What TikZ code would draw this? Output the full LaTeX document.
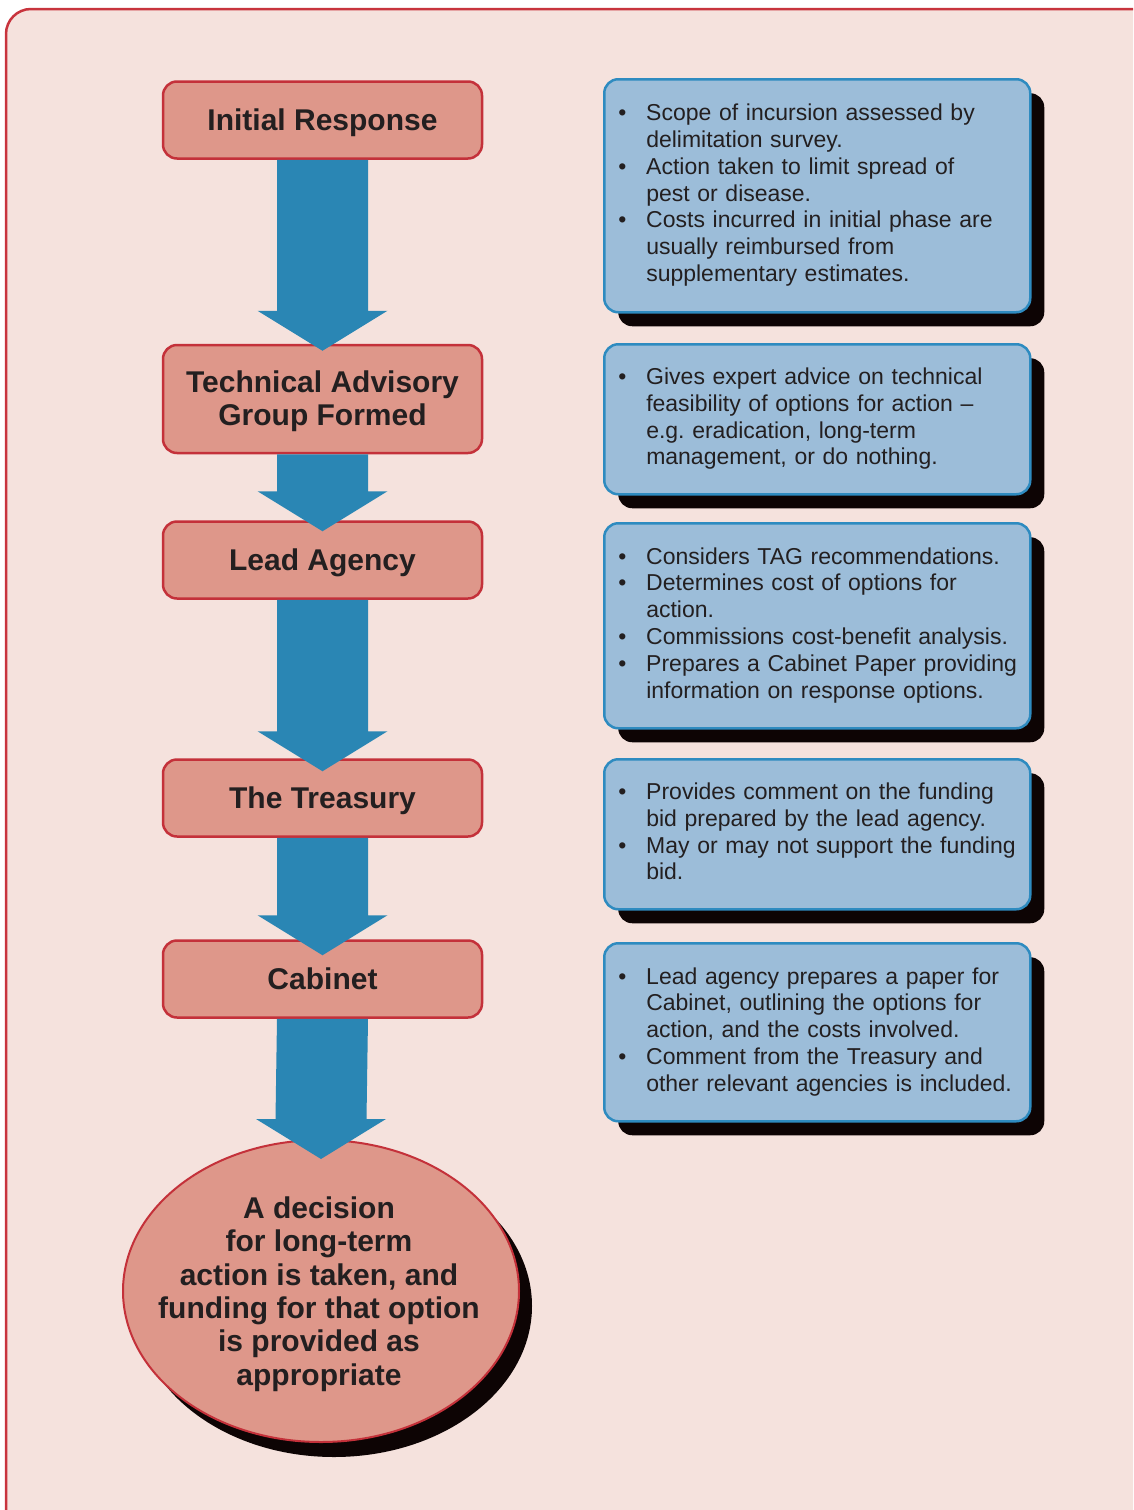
\documentclass[tikz,border=0pt]{standalone}
\usepackage{fontspec}
\setmainfont{Liberation Sans}
\usetikzlibrary{calc,shapes.geometric,shadows}

\definecolor{pagebg}{HTML}{F5E2DD}
\definecolor{framered}{HTML}{C8343D}
\definecolor{stepfill}{HTML}{DE978A}
\definecolor{stepline}{HTML}{C4313A}
\definecolor{notefill}{HTML}{9CBDD9}
\definecolor{noteline}{HTML}{2E8BC0}
\definecolor{arrowblue}{HTML}{2A86B4}
\definecolor{inkdark}{HTML}{231F20}
\definecolor{shadowink}{HTML}{0D0404}

\tikzset{
  stepbox/.style={draw=stepline, line width=2.5pt, fill=stepfill, rounded corners=14pt,
    minimum width=319pt, minimum height=77pt, inner sep=0pt, align=center,
    text height=21pt, text depth=0pt,
    text=inkdark, font=\fontsize{30}{33}\selectfont\bfseries},
  notebox/.style={draw=noteline, line width=2.5pt, fill=notefill, rounded corners=14pt,
    anchor=north west, minimum width=426pt, text width=390pt, inner xsep=18pt,
    inner ysep=0pt, text=inkdark, font=\fontsize{23}{26.8}\selectfont,
    drop shadow={shadow xshift=14pt, shadow yshift=-14pt, fill=shadowink, opacity=1}},
  endoval/.style={ellipse, draw=stepline, line width=2pt, fill=stepfill,
    minimum width=396pt, minimum height=302pt, inner sep=0pt,
    drop shadow={shadow xshift=13pt, shadow yshift=-15pt, fill=shadowink, opacity=1}},
  endtext/.style={align=center, text=inkdark, font=\fontsize{30}{33.4}\selectfont\bfseries}
}

% bullet lines, one row per printed line
\newcommand{\notelist}[1]{\noindent\begin{tabular}{@{}p{24pt}@{}l@{}}#1\end{tabular}}
\newcommand{\bul}{\hspace*{-4pt}\textbullet}
% big blue arrow from one step to the next, #1 = how far the tip runs in
\newcommand{\flowarrow}[3][10]{%
  \fill[arrowblue] ($(#2.south)+(-45.5,0)$) -- ($(#2.south)+(45.5,0)$)
    -- ($(#3.north)+(45.5,#1-40)$) -- ($(#3.north)+(65,#1-40)$)
    -- ($(#3.north)+(0,#1)$) -- ($(#3.north)+(-65,#1-40)$)
    -- ($(#3.north)+(-45.5,#1-40)$) -- cycle;}

\begin{document}
\begin{tikzpicture}[x=1pt,y=-1pt]
      \useasboundingbox (0,0) rectangle (1133,1510) ;
      \clip (0,0) rectangle (1133,1510) ;
      \draw[framered, line width=2.5pt, fill=pagebg, rounded corners=25pt] (6,9) rectangle (1170,1550) ;

      % steps
      \node[stepbox] (ir) at (322.5,120) {Initial Response} ;
      \node[stepbox, minimum height=108pt, text height=52pt] (tag) at (322.5,399) {Technical Advisory\\Group Formed} ;
      \node[stepbox] (lead) at (322.5,560) {Lead Agency} ;
      \node[stepbox] (treas) at (322.5,798) {The Treasury} ;
      \node[stepbox] (cab) at (322.5,979) {Cabinet} ;
      \node[endoval] (dec) at (321,1291) {} ;
      \node[endtext] (dectext) at ($(dec.center)+(-2,3)$) {A decision\\for long-term\\action is taken, and\\funding for that option\\is provided as\\appropriate} ;

      \flowarrow[7]{ir}{tag}
      \flowarrow[11]{tag}{lead}
      \flowarrow[13]{lead}{treas}
      \flowarrow[16]{treas}{cab}
      \flowarrow[20]{cab}{dec}

      % notes
      \node[notebox, minimum height=233pt] (irnote) at (603,78) {\notelist{%
        \bul & Scope of incursion assessed by\\
        & delimitation survey.\\
        \bul & Action taken to limit spread of\\
        & pest or disease.\\
        \bul & Costs incurred in initial phase are\\
        & usually reimbursed from\\
        & supplementary estimates.}} ;
      \node[notebox, minimum height=150pt] (tagnote) at (603,343) {\notelist{%
        \bul & Gives expert advice on technical\\
        & feasibility of options for action --\\
        & e.g.\ eradication, long-term\\
        & management, or do nothing.}} ;
      \node[notebox, minimum height=205pt] (leadnote) at (603,522) {\notelist{%
        \bul & Considers TAG recommendations.\\
        \bul & Determines cost of options for\\
        & action.\\
        \bul & Commissions cost-benefit analysis.\\
        \bul & Prepares a Cabinet Paper providing\\
        & information on response options.}} ;
      \node[notebox, minimum height=150pt] (treasnote) at (603,758) {\notelist{%
        \bul & Provides comment on the funding\\
        & bid prepared by the lead agency.\\
        \bul & May or may not support the funding\\
        & bid.}} ;
      \node[notebox, minimum height=178pt] (cabnote) at (603,942) {\notelist{%
        \bul & Lead agency prepares a paper for\\
        & Cabinet, outlining the options for\\
        & action, and the costs involved.\\
        \bul & Comment from the Treasury and\\
        & other relevant agencies is included.}} ;
\end{tikzpicture}
\end{document}
